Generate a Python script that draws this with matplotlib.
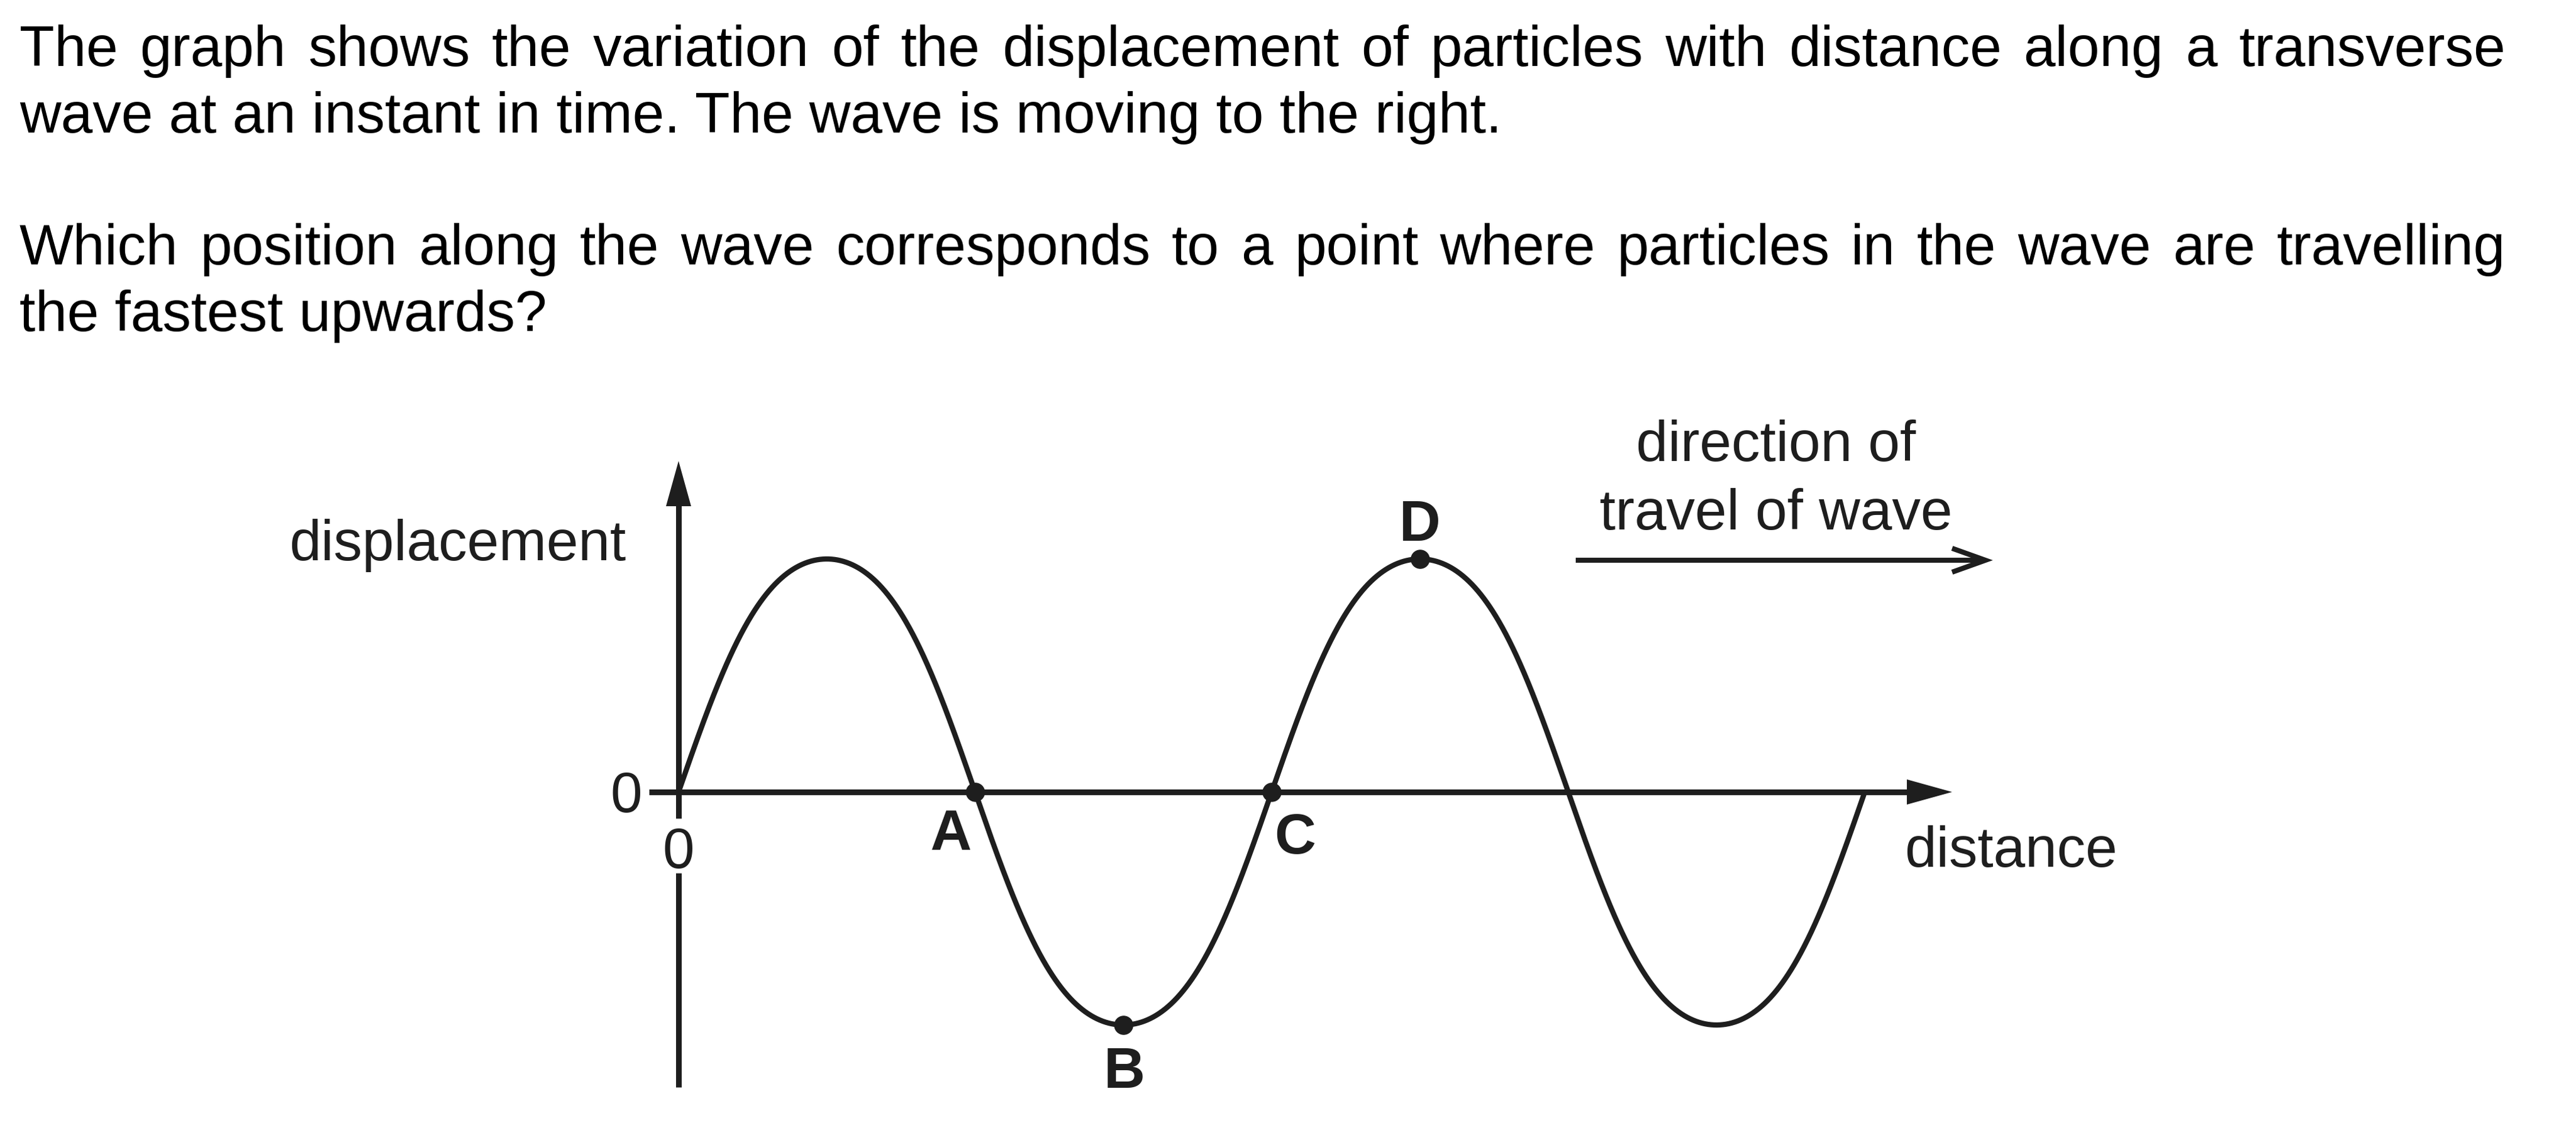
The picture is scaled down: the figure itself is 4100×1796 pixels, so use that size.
import numpy as np
import matplotlib
matplotlib.use("Agg")
import matplotlib.pyplot as plt

# ---------------- data ----------------
question_lines = [
    "The graph shows the variation of the displacement of particles with distance along a transverse",
    "wave at an instant in time. The wave is moving to the right.",
    "Which position along the wave corresponds to a point where particles in the wave are travelling",
    "the fastest upwards?",
]
justify_line = [True, False, True, False]

wave_amplitude = 1.0      # displacement units
wavelength = 1.0          # distance units
n_wavelengths = 2.0       # number of full waves drawn
third_harmonic = 0.04     # drawn curve is slightly steeper at the crossings than a pure sine

point_labels = ["A", "B", "C", "D"]
point_x = [0.5, 0.75, 1.0, 1.25]
point_y = [0.0, -1.0, 0.0, 1.0]

y_label = "displacement"
x_label = "distance"
origin_label = "0"
direction_label = "direction of\ntravel of wave"

# ---------------- layout ----------------
W, H = 4100, 1796
DPI = 100
INK = "#1e1e1e"
FS = 65.5
FAMILY = ["Liberation Sans", "DejaVu Sans"]

fig = plt.figure(figsize=(W / DPI, H / DPI), dpi=DPI)
fig.patch.set_facecolor("white")

# axes covering the full figure; data units set so that the wave geometry matches
X0_PX, Y0_PX = 1080, 1261       # pixel location of the origin
SX, SY = 944.0, 371.0            # pixels per wavelength / per amplitude
ax = fig.add_axes([0, 0, 1, 1])
ax.set_xlim((0 - X0_PX) / SX, (W - X0_PX) / SX)
ax.set_ylim((Y0_PX - H) / SY, (Y0_PX - 0) / SY)
ax.axis("off")


def dx(px):
    return (px - X0_PX) / SX


def dy(py):
    return (Y0_PX - py) / SY


axis_lw = 6.5
# y axis (with gap for the "0" label below the origin)
ax.plot([0, 0], [dy(800), dy(1303)], color=INK, lw=axis_lw, solid_capstyle="butt")
ax.plot([0, 0], [dy(1390), dy(1731)], color=INK, lw=axis_lw, solid_capstyle="butt")
ax.fill([0, dx(1080 - 20), dx(1080 + 20)], [dy(734), dy(806), dy(806)], color=INK, lw=0)
# x axis
ax.plot([dx(1033), dx(3040)], [0, 0], color=INK, lw=axis_lw, solid_capstyle="butt")
ax.fill([dx(3107), dx(3035), dx(3035)], [0, dy(1261 - 20), dy(1261 + 20)], color=INK, lw=0)

# wave
xs = np.linspace(0, n_wavelengths * wavelength, 2000)
theta = 2 * np.pi * xs / wavelength
ys = wave_amplitude * (np.sin(theta) + third_harmonic * np.sin(3 * theta)) / (1 - third_harmonic)
ax.plot(xs, ys, color=INK, lw=6.0, solid_capstyle="butt", solid_joinstyle="round")

# labelled points
ax.plot(point_x, point_y, "o", color=INK, ms=21, mec=INK)
label_pos = {"A": (1514, 1353), "B": (1790, 1732), "C": (2061, 1359), "D": (2260, 861)}
for lab in point_labels:
    px, py = label_pos[lab]
    ax.text(dx(px), dy(py), lab, ha="center", va="baseline", fontsize=FS,
            fontweight="bold", family=FAMILY, color=INK)

# axis labels
ax.text(dx(996), dy(892), y_label, ha="right", va="baseline", fontsize=FS,
        family=FAMILY, color=INK)
ax.text(dx(3031), dy(1380), x_label, ha="left", va="baseline", fontsize=FS,
        family=FAMILY, color=INK)
ax.text(dx(1022), dy(1293), origin_label, ha="right", va="baseline", fontsize=FS,
        family=FAMILY, color=INK)
ax.text(0, dy(1382), origin_label, ha="center", va="baseline", fontsize=FS,
        family=FAMILY, color=INK)

# direction of travel
ax.text(dx(2827), dy(734), direction_label.split("\n")[0], ha="center", va="baseline",
        fontsize=FS, family=FAMILY, color=INK)
ax.text(dx(2827), dy(843), direction_label.split("\n")[1], ha="center", va="baseline",
        fontsize=FS, family=FAMILY, color=INK)
ax.plot([dx(2508), dx(3158)], [dy(892), dy(892)], color=INK, lw=5.8, solid_capstyle="butt")
ax.plot([dx(3107), dx(3160), dx(3107)], [dy(873), dy(892), dy(911)], color=INK, lw=5.8,
        solid_capstyle="butt", solid_joinstyle="miter")

# ---------------- question text (justified) ----------------
renderer = fig.canvas.get_renderer()
baselines = [105, 211, 421, 527]
LEFT, RIGHT = 31, 3988
for line, base, just in zip(question_lines, baselines, justify_line):
    yf = 1 - base / H
    if not just:
        fig.text(LEFT / W, yf, line, ha="left", va="baseline", fontsize=FS,
                 family=FAMILY, color="black")
        continue
    words = line.split(" ")
    texts = [fig.text(0, yf, w, ha="left", va="baseline", fontsize=FS,
                      family=FAMILY, color="black") for w in words]
    widths = [t.get_window_extent(renderer).width for t in texts]
    gap = (RIGHT - LEFT - sum(widths)) / (len(words) - 1)
    x = LEFT
    for t, w in zip(texts, widths):
        t.set_position((x / W, yf))
        x += w + gap

fig.savefig("out.png", dpi=DPI, facecolor="white")
